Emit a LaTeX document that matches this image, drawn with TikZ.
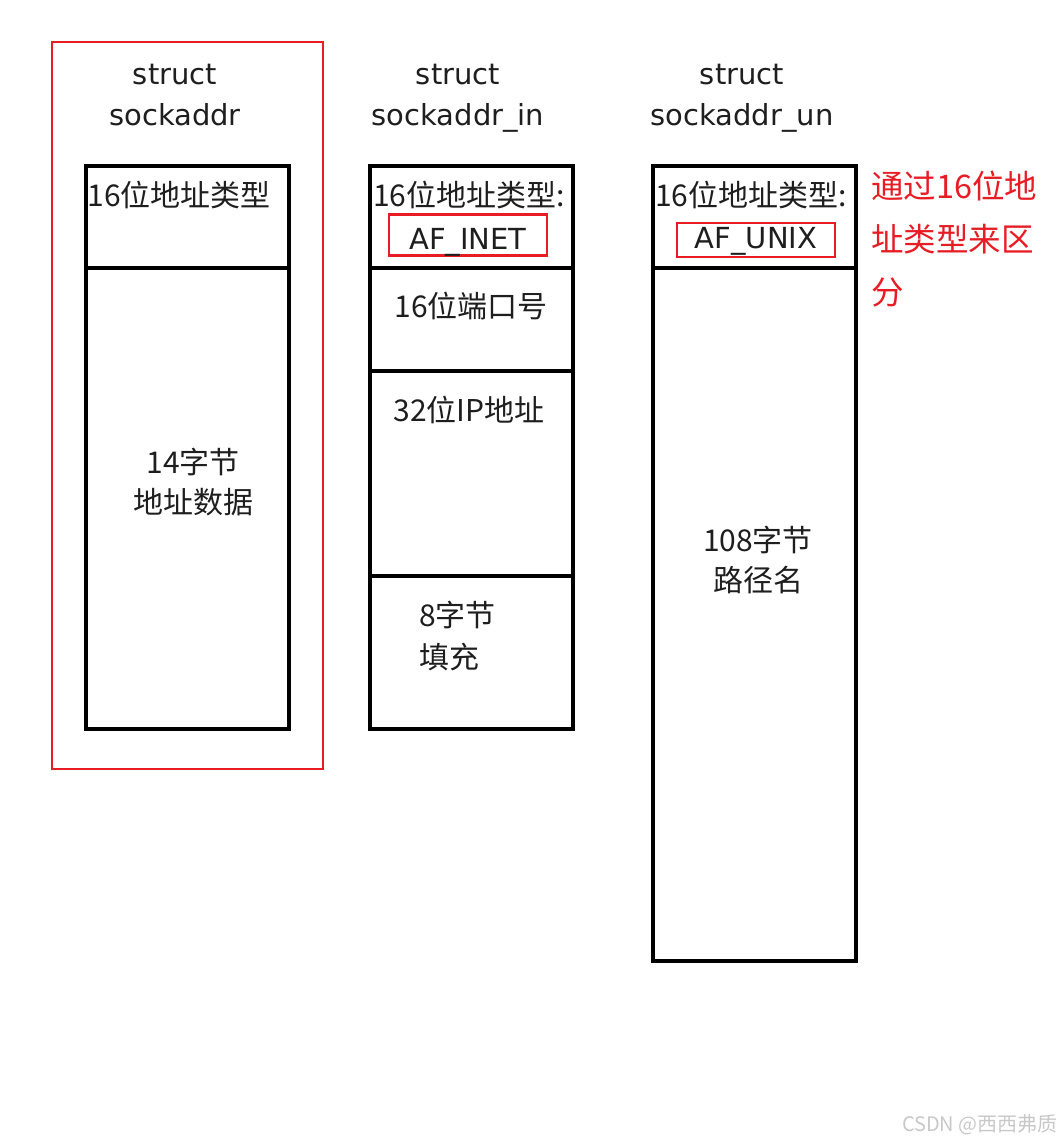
\documentclass[tikz,border=0pt]{standalone}
\usepackage{fontspec}
\setmainfont{DejaVu Sans}
\newfontfamily\cjk{Noto Sans CJK SC}
\definecolor{markred}{RGB}{232,28,36}
\definecolor{inkgray}{RGB}{30,30,30}
\definecolor{wmgray}{RGB}{200,200,200}
\tikzset{
  cell/.style={draw=black,line width=3.6pt,minimum width=203pt,inner sep=0pt,anchor=north west},
  title/.style={align=center,text=inkgray,font=\fontsize{29}{41}\selectfont},
  field/.style={text=inkgray,inner sep=0pt,font=\cjk\fontsize{30}{40}\selectfont},
  redbox/.style={draw=markred,line width=2.4pt,inner sep=0pt},
  afname/.style={redbox,text=inkgray,text depth=0pt,font=\fontsize{29}{35}\selectfont}
}
\begin{document}
\begin{tikzpicture}[x=1pt,y=-1pt]
\useasboundingbox (0,0) rectangle (1063,1142);
% struct sockaddr
\node[title] (sa_title) at (175,95) {struct\\sockaddr};
\node[cell,minimum height=102pt] (sa_fam) at (84,164) {};
\node[cell,minimum height=461pt] (sa_data) at (84,266) {};
\node[field] at (179,195) {16位地址类型};
\node[field,align=center] at (193,482) {14字节\\地址数据};
\node[redbox,minimum width=271pt,minimum height=727pt,anchor=north west] (sa_sel) at (51,41) {};
% struct sockaddr_in
\node[title] (in_title) at (458,98) {struct\\sockaddr\_in};
\node[cell,minimum height=102pt] (in_fam) at (368,164) {};
\node[cell,minimum height=103pt] (in_port) at (368,266) {};
\node[cell,minimum height=205pt] (in_addr) at (368,369) {};
\node[cell,minimum height=153pt] (in_pad) at (368,574) {};
\node[field] at (469,195) {16位地址类型:};
\node[afname,text height=28pt,minimum width=158pt,minimum height=41pt] (in_af) at (468,235) {AF\_INET};
\node[field] at (471,306) {16位端口号};
\node[field] at (469,410) {32位IP地址};
\node[field,align=left,anchor=west,font=\cjk\fontsize{30}{42}\selectfont] at (419,636) {8字节\\填充};
% struct sockaddr_un
\node[title] (un_title) at (742,98) {struct\\sockaddr\_un};
\node[cell,minimum height=102pt] (un_fam) at (651,164) {};
\node[cell,minimum height=693pt] (un_path) at (651,266) {};
\node[field] at (751,195) {16位地址类型:};
\node[afname,text height=17pt,minimum width=158pt,minimum height=34pt] (un_af) at (756,240) {AF\_UNIX};
\node[field,align=center] at (758,560) {108字节\\路径名};
% note
\node[text=markred,align=left,anchor=west,inner sep=0pt,font=\cjk\fontsize{32.5}{53}\selectfont] (note) at (871,239) {通过16位地\\址类型来区\\分};
\node[text=wmgray,anchor=east,inner sep=0pt,font=\cjk\fontsize{20}{22}\selectfont] (wm) at (1058,1125) {CSDN @西西弗质};
\end{tikzpicture}
\end{document}
